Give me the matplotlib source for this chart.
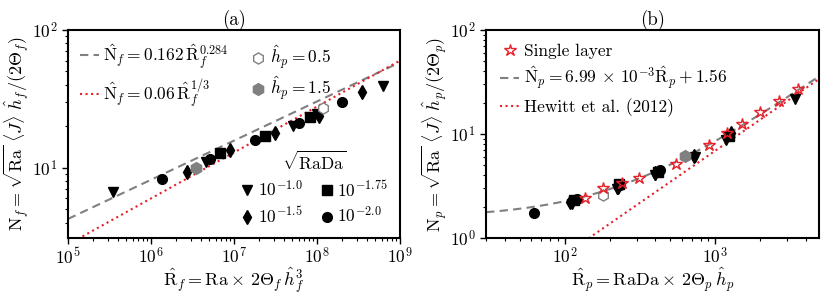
import numpy as np
import matplotlib
matplotlib.use("Agg")
import matplotlib.pyplot as plt
from matplotlib.lines import Line2D

plt.rcParams['mathtext.fontset'] = 'cm'
plt.rcParams['font.family'] = ['cmr10', 'DejaVu Serif']
plt.rcParams['axes.formatter.use_mathtext'] = True
plt.rcParams['font.size'] = 12

# panel (a): R_f, N_f per sqrt(RaDa) group
tri_a_x = [3.5e5, 4.6e6, 5.2e7, 1.0e8, 6.2e8]
tri_a_y = [6.7, 11.1, 20.1, 24.5, 39.5]
dia_a_x = [2.7e6, 9.0e6, 3.1e7, 1.07e8, 3.5e8]
dia_a_y = [9.4, 13.5, 18.0, 23.8, 35.7]
sq_a_x = [6.8e6, 2.36e7, 8.2e7]
sq_a_y = [12.9, 17.1, 23.3]
cir_a_x = [1.37e6, 5.1e6, 1.8e7, 6.1e7, 1.98e8]
cir_a_y = [8.3, 11.6, 16.0, 21.1, 30.2]
hex05_a_x = [1.17e8]
hex05_a_y = [27.4]
hex15_a_x = [3.5e6]
hex15_a_y = [10.0]

# panel (b): R_p, N_p
star_x = [137, 180, 240, 313, 551, 913, 1206, 1500, 2000, 2670, 3535]
star_y = [2.41, 3.0, 3.4, 3.8, 5.15, 7.8, 10.2, 12.5, 16.2, 20.9, 26.9]
tri_b_x = [112, 222, 397, 730, 1175, 3390]
tri_b_y = [2.12, 2.94, 4.04, 6.0, 8.75, 21.7]
dia_b_x = [108, 225, 400, 728, 1268]
dia_b_y = [2.2, 3.1, 4.2, 6.2, 10.3]
sq_b_x = [115, 228, 417, 1240]
sq_b_y = [2.3, 3.28, 4.35, 9.6]
cir_b_x = [62, 121, 233, 428]
cir_b_y = [1.73, 2.36, 3.2, 4.5]
hex05_b_x = [180]
hex05_b_y = [2.59]
hex15_b_x = [625]
hex15_b_y = [6.18]

fig = plt.figure(figsize=(8.31, 2.97), dpi=100)
ax1 = fig.add_axes([0.0818, 0.1987, 0.3995, 0.7003])
ax2 = fig.add_axes([0.585, 0.1987, 0.4006, 0.7003])

ms = 7
mk = dict(color='black', linestyle='none', markersize=ms)
lab_fs = 13
leg_fs = 12.5

# ---- panel (a)
xx = np.logspace(5, 9, 200)
l1, = ax1.plot(xx, 0.162 * xx ** 0.284, '--', color='gray', lw=1.5, dashes=(4, 2.5))
l2, = ax1.plot(xx, 0.06 * xx ** (1 / 3), ':', color='#e8202a', lw=1.5)
ax1.plot(tri_a_x, tri_a_y, marker='v', **mk)
ax1.plot(dia_a_x, dia_a_y, marker='d', **mk)
ax1.plot(sq_a_x, sq_a_y, marker='s', **mk)
ax1.plot(cir_a_x, cir_a_y, marker='o', **mk)
ax1.plot(hex05_a_x, hex05_a_y, 'h', mfc='white', mec='gray', markersize=ms + 1, mew=1)
ax1.plot(hex15_a_x, hex15_a_y, 'h', color='gray', markersize=ms + 1.5)
ax1.set_xscale('log')
ax1.set_yscale('log')
ax1.set_xlim(1e5, 1e9)
ax1.set_ylim(3.1, 100)
ax1.set_title('(a)', fontsize=13.5, pad=3)
ax1.set_xlabel(r'$\hat{\mathrm{R}}_f = \mathrm{Ra}\times\,2\Theta_f\,\hat{h}_f^3$',
               fontsize=lab_fs, labelpad=-1)
ax1.set_ylabel(r'$\mathrm{N}_f = \sqrt{\mathrm{Ra}}\ \langle J\rangle\ \hat{h}_f/(2\Theta_f)$',
               fontsize=lab_fs, labelpad=1)

leg1 = ax1.legend([l1, l2], [r'$\hat{\mathrm{N}}_f = 0.162\,\hat{\mathrm{R}}_f^{0.284}$',
                            r'$\hat{\mathrm{N}}_f = 0.06\,\hat{\mathrm{R}}_f^{1/3}$'],
                  loc='upper left', frameon=False, handlelength=1.1, handletextpad=0.2,
                  borderaxespad=0.3, labelspacing=0.4, fontsize=leg_fs)
ax1.add_artist(leg1)
h05 = Line2D([], [], marker='h', mfc='white', mec='gray', ls='none', markersize=ms + 1)
h15 = Line2D([], [], marker='h', color='gray', ls='none', markersize=ms + 1.5)
leg2 = ax1.legend([h05, h15], [r'$\hat{h}_p = 0.5$', r'$\hat{h}_p = 1.5$'],
                  loc='upper left', bbox_to_anchor=(0.5, 1.01), frameon=False,
                  handlelength=1.0, handletextpad=0.2, labelspacing=0.2, fontsize=leg_fs)
ax1.add_artist(leg2)
mh = [Line2D([], [], marker=m, color='black', ls='none', markersize=ms) for m in ['v', 'd', 's', 'o']]
ax1.legend(mh, [r'$10^{-1.0}$', r'$10^{-1.5}$', r'$10^{-1.75}$', r'$10^{-2.0}$'],
           title=r'$\sqrt{\mathrm{RaDa}}$', loc='lower right', ncol=2, frameon=False,
           handlelength=0.8, handletextpad=0.2, columnspacing=1.0, labelspacing=0.35,
           borderaxespad=0.3, fontsize=leg_fs, title_fontsize=leg_fs)

# ---- panel (b)
xb = np.logspace(np.log10(30), np.log10(5000), 200)
l3, = ax2.plot(xb, 6.99e-3 * xb + 1.56, '--', color='gray', lw=1.5, dashes=(4, 2.5))
l4, = ax2.plot(xb, 0.0069 * xb, ':', color='#e8202a', lw=1.5)
ax2.plot(tri_b_x, tri_b_y, marker='v', **mk)
ax2.plot(dia_b_x, dia_b_y, marker='d', **mk)
ax2.plot(sq_b_x, sq_b_y, marker='s', **mk)
ax2.plot(cir_b_x, cir_b_y, marker='o', **mk)
ax2.plot(hex05_b_x, hex05_b_y, 'h', mfc='white', mec='gray', markersize=ms + 1, mew=1)
ax2.plot(hex15_b_x, hex15_b_y, 'h', color='gray', markersize=ms + 1.5)
l5, = ax2.plot(star_x, star_y, '*', mfc='none', mec='#e8202a', markersize=ms + 2, mew=1, ls='none')
ax2.set_xscale('log')
ax2.set_yscale('log')
ax2.set_xlim(30, 4900)
ax2.set_ylim(1, 100)
ax2.set_title('(b)', fontsize=13.5, pad=3)
ax2.set_xlabel(r'$\hat{\mathrm{R}}_p = \mathrm{RaDa}\times\,2\Theta_p\,\hat{h}_p$',
               fontsize=lab_fs, labelpad=-1)
ax2.set_ylabel(r'$\mathrm{N}_p = \sqrt{\mathrm{Ra}}\ \langle J\rangle\ \hat{h}_p/(2\Theta_p)$',
               fontsize=lab_fs, labelpad=1)
ax2.legend([l5, l3, l4], ['Single layer',
                          r'$\hat{\mathrm{N}}_p = 6.99\,\times\,10^{-3}\hat{\mathrm{R}}_p + 1.56$',
                          'Hewitt et al. (2012)'],
           loc='upper left', frameon=False, handlelength=1.1, handletextpad=0.3,
           borderaxespad=0.4, labelspacing=0.35, fontsize=leg_fs)

for ax in (ax1, ax2):
    for s in ax.spines.values():
        s.set_linewidth(1.5)
    ax.tick_params(which='major', labelsize=12.5, length=4, width=1)
    ax.tick_params(axis='x', which='major', pad=2)
    ax.tick_params(which='minor', length=2, width=0.8)

fig.savefig('out.png', dpi=100)
